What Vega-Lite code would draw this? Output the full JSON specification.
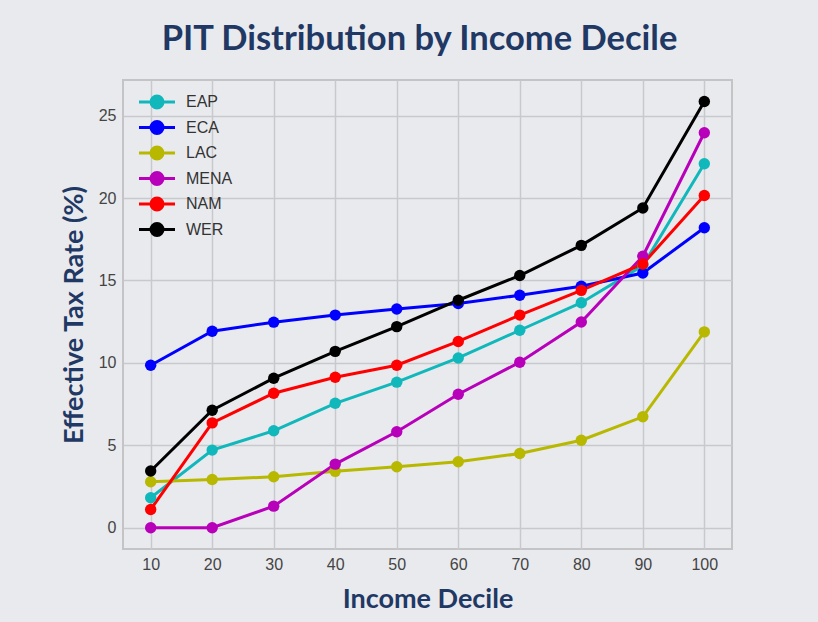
{
  "$schema": "https://vega.github.io/schema/vega-lite/v6.json",
  "width": 609,
  "height": 469,
  "autosize": {"type": "none"},
  "padding": {"left": 123, "top": 80, "right": 86, "bottom": 73},
  "background": "#E9EAEE",
  "title": {
    "text": "PIT Distribution by Income Decile",
    "font": "Lato",
    "fontSize": 34.5,
    "fontWeight": "bold",
    "color": "#1F3864",
    "anchor": "middle",
    "baseline": "alphabetic",
    "offset": -4,
    "dx": -8
  },
  "data": {
    "values": [
      {"decile": 10, "region": "EAP", "rate": 1.82},
      {"decile": 20, "region": "EAP", "rate": 4.71},
      {"decile": 30, "region": "EAP", "rate": 5.88},
      {"decile": 40, "region": "EAP", "rate": 7.55},
      {"decile": 50, "region": "EAP", "rate": 8.83},
      {"decile": 60, "region": "EAP", "rate": 10.3},
      {"decile": 70, "region": "EAP", "rate": 11.98},
      {"decile": 80, "region": "EAP", "rate": 13.65},
      {"decile": 90, "region": "EAP", "rate": 15.9},
      {"decile": 100, "region": "EAP", "rate": 22.08},
      {"decile": 10, "region": "ECA", "rate": 9.86},
      {"decile": 20, "region": "ECA", "rate": 11.92},
      {"decile": 30, "region": "ECA", "rate": 12.47},
      {"decile": 40, "region": "ECA", "rate": 12.9},
      {"decile": 50, "region": "ECA", "rate": 13.27},
      {"decile": 60, "region": "ECA", "rate": 13.6},
      {"decile": 70, "region": "ECA", "rate": 14.1},
      {"decile": 80, "region": "ECA", "rate": 14.65},
      {"decile": 90, "region": "ECA", "rate": 15.45},
      {"decile": 100, "region": "ECA", "rate": 18.2},
      {"decile": 10, "region": "LAC", "rate": 2.79},
      {"decile": 20, "region": "LAC", "rate": 2.93},
      {"decile": 30, "region": "LAC", "rate": 3.09},
      {"decile": 40, "region": "LAC", "rate": 3.42},
      {"decile": 50, "region": "LAC", "rate": 3.7},
      {"decile": 60, "region": "LAC", "rate": 4.0},
      {"decile": 70, "region": "LAC", "rate": 4.5},
      {"decile": 80, "region": "LAC", "rate": 5.31},
      {"decile": 90, "region": "LAC", "rate": 6.73},
      {"decile": 100, "region": "LAC", "rate": 11.88},
      {"decile": 10, "region": "MENA", "rate": 0},
      {"decile": 20, "region": "MENA", "rate": 0},
      {"decile": 30, "region": "MENA", "rate": 1.31},
      {"decile": 40, "region": "MENA", "rate": 3.86},
      {"decile": 50, "region": "MENA", "rate": 5.82},
      {"decile": 60, "region": "MENA", "rate": 8.1},
      {"decile": 70, "region": "MENA", "rate": 10.04},
      {"decile": 80, "region": "MENA", "rate": 12.48},
      {"decile": 90, "region": "MENA", "rate": 16.47},
      {"decile": 100, "region": "MENA", "rate": 23.96},
      {"decile": 10, "region": "NAM", "rate": 1.11},
      {"decile": 20, "region": "NAM", "rate": 6.36},
      {"decile": 30, "region": "NAM", "rate": 8.16},
      {"decile": 40, "region": "NAM", "rate": 9.13},
      {"decile": 50, "region": "NAM", "rate": 9.86},
      {"decile": 60, "region": "NAM", "rate": 11.3},
      {"decile": 70, "region": "NAM", "rate": 12.9},
      {"decile": 80, "region": "NAM", "rate": 14.4},
      {"decile": 90, "region": "NAM", "rate": 16.0},
      {"decile": 100, "region": "NAM", "rate": 20.15},
      {"decile": 10, "region": "WER", "rate": 3.44},
      {"decile": 20, "region": "WER", "rate": 7.13},
      {"decile": 30, "region": "WER", "rate": 9.07},
      {"decile": 40, "region": "WER", "rate": 10.7},
      {"decile": 50, "region": "WER", "rate": 12.2},
      {"decile": 60, "region": "WER", "rate": 13.8},
      {"decile": 70, "region": "WER", "rate": 15.3},
      {"decile": 80, "region": "WER", "rate": 17.13},
      {"decile": 90, "region": "WER", "rate": 19.4},
      {"decile": 100, "region": "WER", "rate": 25.86}
    ]
  },
  "encoding": {
    "x": {
      "field": "decile",
      "type": "quantitative",
      "scale": {"domain": [5.5, 104.5], "nice": false, "zero": false},
      "axis": {
        "title": "Income Decile",
        "values": [10, 20, 30, 40, 50, 60, 70, 80, 90, 100],
        "titlePadding": 14
      }
    },
    "y": {
      "field": "rate",
      "type": "quantitative",
      "scale": {"domain": [-1.29, 27.16], "nice": false, "zero": false},
      "axis": {
        "title": "Effective Tax Rate (%)",
        "values": [0, 5, 10, 15, 20, 25],
        "titlePadding": 10
      }
    },
    "color": {
      "field": "region",
      "type": "nominal",
      "scale": {
        "domain": ["EAP", "ECA", "LAC", "MENA", "NAM", "WER"],
        "range": ["#11B8BB", "#0000FF", "#B8B800", "#B800BB", "#FF0000", "#000000"]
      },
      "legend": {
        "title": null,
        "orient": "none",
        "legendX": 26,
        "legendY": 14,
        "symbolType": "M -3 0 L 3 0 M 1 0 A 1 1 0 1 1 -1 0 A 1 1 0 1 1 1 0 Z",
        "symbolSize": 144,
        "symbolStrokeWidth": 3,
        "labelOffset": 21,
        "labelFont": "Liberation Sans",
        "labelFontSize": 16,
        "labelColor": "#333333",
        "rowPadding": 1.5,
        "encode": {
          "symbols": {
            "update": {
              "fill": {"scale": "color", "field": "value"},
              "stroke": {"scale": "color", "field": "value"},
              "opacity": {"value": 1},
              "fillOpacity": {"value": 1},
              "strokeOpacity": {"value": 1}
            }
          }
        }
      }
    }
  },
  "layer": [
    {"mark": {"type": "line", "strokeWidth": 3}},
    {"mark": {"type": "point", "filled": true, "size": 130, "opacity": 1}}
  ],
  "config": {
    "view": {"fill": "#E9EAEE", "stroke": "#C4C4C6", "strokeWidth": 2},
    "axis": {
      "domain": false,
      "ticks": false,
      "grid": true,
      "gridColor": "#C8C9CC",
      "gridWidth": 1.5,
      "labelFont": "Liberation Sans",
      "labelFontSize": 16,
      "labelColor": "#444444",
      "labelPadding": 7,
      "titleFont": "Lato",
      "titleFontSize": 27,
      "titleFontWeight": "bold",
      "titleColor": "#1F3864"
    }
  }
}
